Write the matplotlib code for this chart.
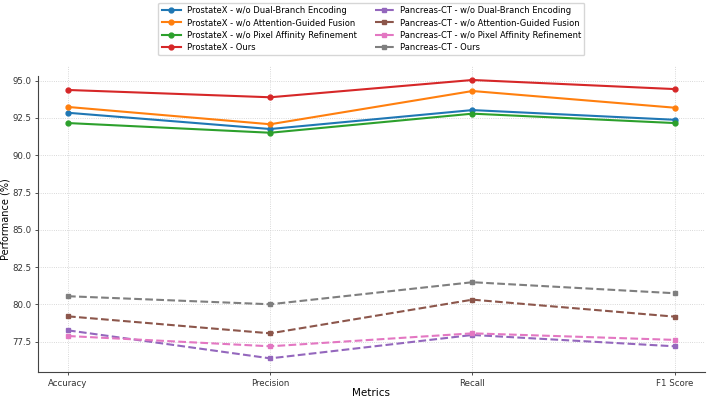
import matplotlib
matplotlib.use("Agg")
import matplotlib.pyplot as plt

metrics = ["Accuracy", "Precision", "Recall", "F1 Score"]

# ProstateX
px_wo_dbe = [92.85, 91.76, 93.03, 92.38]
px_wo_agf = [93.24, 92.08, 94.31, 93.19]
px_wo_par = [92.16, 91.51, 92.79, 92.16]
px_ours = [94.38, 93.89, 95.05, 94.44]

# Pancreas-CT
pc_wo_dbe = [78.25, 76.37, 77.94, 77.18]
pc_wo_agf = [79.19, 78.05, 80.31, 79.17]
pc_wo_par = [77.87, 77.18, 78.05, 77.61]
pc_ours = [80.54, 80.00, 81.48, 80.74]

fig = plt.figure(figsize=(7.08, 3.98), dpi=100)
ax = fig.add_axes([0.0532, 0.0646, 0.9426, 0.7694])

x = range(len(metrics))
ax.plot(x, px_wo_dbe, marker='o', ms=3.5, lw=1.5, color='#1f77b4', label='ProstateX - w/o Dual-Branch Encoding')
ax.plot(x, px_wo_agf, marker='o', ms=3.5, lw=1.5, color='#ff7f0e', label='ProstateX - w/o Attention-Guided Fusion')
ax.plot(x, px_wo_par, marker='o', ms=3.5, lw=1.5, color='#2ca02c', label='ProstateX - w/o Pixel Affinity Refinement')
ax.plot(x, px_ours, marker='o', ms=3.5, lw=1.5, color='#d62728', label='ProstateX - Ours')
ax.plot(x, pc_wo_dbe, marker='s', ms=3.5, lw=1.5, ls='--', color='#9467bd', label='Pancreas-CT - w/o Dual-Branch Encoding')
ax.plot(x, pc_wo_agf, marker='s', ms=3.5, lw=1.5, ls='--', color='#8c564b', label='Pancreas-CT - w/o Attention-Guided Fusion')
ax.plot(x, pc_wo_par, marker='s', ms=3.5, lw=1.5, ls='--', color='#e377c2', label='Pancreas-CT - w/o Pixel Affinity Refinement')
ax.plot(x, pc_ours, marker='s', ms=3.5, lw=1.5, ls='--', color='#7f7f7f', label='Pancreas-CT - Ours')

ax.set_xticks(list(x))
ax.set_xticklabels(metrics)
ax.set_yticks([77.5, 80.0, 82.5, 85.0, 87.5, 90.0, 92.5, 95.0])
ax.set_yticklabels(['77.5', '80.0', '82.5', '85.0', '87.5', '90.0', '92.5', '95.0'])
ax.tick_params(labelsize=6.2, length=2.5, width=0.6, colors='#333333', pad=2)
ax.set_xlabel("Metrics", fontsize=7.5, labelpad=0)
ax.set_ylabel("Performance (%)", fontsize=7)
ax.yaxis.set_label_coords(-0.041, 0.5)

ax.grid(True, ls=':', lw=0.6, color='#cccccc')
for s in ['top', 'right']:
    ax.spines[s].set_visible(False)
for s in ['left', 'bottom']:
    ax.spines[s].set_color('#444444')
    ax.spines[s].set_linewidth(0.8)
ylo = ax.get_ylim()[0]
ax.spines['left'].set_bounds(ylo, 95.3)

ax.legend(loc='lower center', bbox_to_anchor=(0.5, 1.035), ncol=2, fontsize=6,
          frameon=True, edgecolor='#cccccc', handlelength=2.3, handletextpad=0.7,
          columnspacing=2.2, labelspacing=0.4, borderpad=0.4, borderaxespad=0)

fig.savefig("out.png", dpi=100)
